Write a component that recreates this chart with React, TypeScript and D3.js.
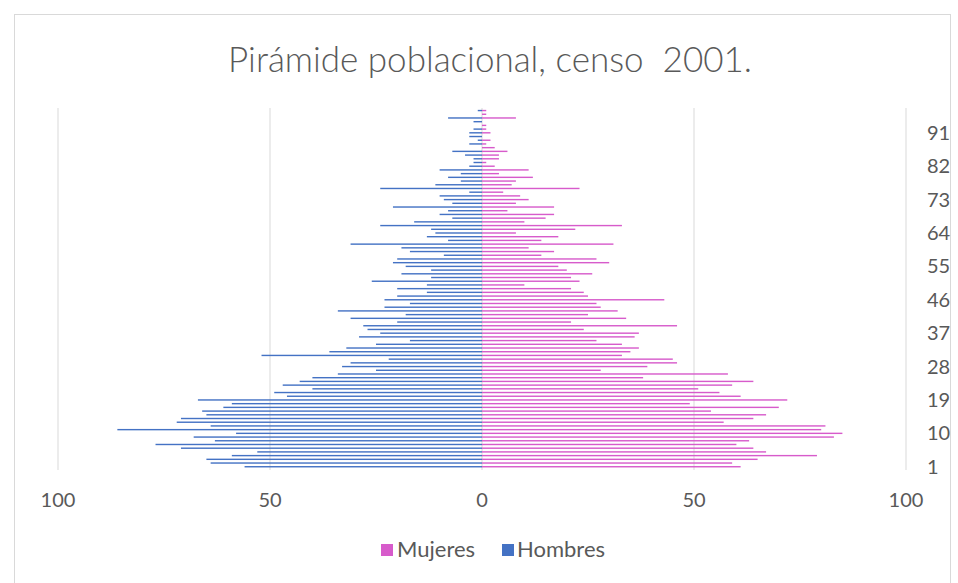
import React from "react";
import * as d3 from "d3";

const ages: number[] = Array.from({ length: 97 }, (_, i) => i + 1);
const hombres: number[] = [
  56, 64, 65, 59, 53, 71, 77, 63, 68, 58, 86, 64, 72, 71, 65, 66, 61, 59, 67, 46,
  49, 40, 47, 43, 40, 34, 25, 33, 31, 22, 52, 36, 32, 25, 17, 29, 24, 27, 28, 20,
  31, 18, 34, 23, 17, 23, 20, 13, 20, 13, 26, 12, 19, 12, 18, 21, 20, 9, 17, 19,
  31, 8, 13, 11, 12, 24, 16, 7, 10, 8, 21, 7, 9, 10, 3, 24, 11, 5, 8, 5,
  10, 3, 2, 2, 4, 7, 0, 3, 1, 3, 3, 2, 0, 2, 8, 0, 1,
];
const mujeres: number[] = [
  61, 59, 65, 79, 67, 64, 60, 63, 83, 85, 80, 81, 57, 64, 67, 54, 70, 49, 72, 61,
  56, 51, 59, 64, 38, 58, 28, 39, 46, 45, 33, 35, 37, 33, 27, 36, 37, 24, 46, 21,
  34, 25, 32, 28, 27, 43, 25, 24, 21, 10, 23, 21, 26, 20, 18, 30, 27, 14, 17, 11,
  31, 14, 18, 8, 22, 33, 10, 15, 17, 6, 17, 8, 11, 9, 5, 23, 7, 8, 12, 4,
  11, 3, 1, 4, 4, 6, 3, 1, 2, 0, 2, 1, 1, 0, 8, 1, 1,
];
const xTicks: number[] = [-100, -50, 0, 50, 100];
const yTickLabels: number[] = [1, 10, 19, 28, 37, 46, 55, 64, 73, 82, 91];
const title = "Pirámide poblacional, censo  2001.";
const seriesNames = ["Mujeres", "Hombres"];

const W = 958;
const H = 583;
const FEM = "#D75BCB";
const MAS = "#4472C4";
const TXT = "#595959";
const GRID = "#D9D9D9";
const FONT = "Lato, 'Open Sans', sans-serif";

export default function App() {
  const x = d3.scaleLinear().domain([-100, 100]).range([58, 906]);
  const y = d3
    .scaleBand<number>()
    .domain(ages)
    .range([468.6, 108.7])
    .paddingInner(0.62)
    .paddingOuter(0.31);
  const bh = y.bandwidth();
  const cy = (a: number) => (y(a) as number) + bh / 2;

  return (
    <svg width={W} height={H} style={{ position: "absolute", left: 0, top: 0 }}>
      <rect x={0} y={0} width={W} height={H} fill="#fff" />
      <rect x={14.5} y={14.5} width={936} height={580} fill="none" stroke={GRID} />
      <text
        x={490}
        y={72}
        textAnchor="middle"
        fontFamily={FONT}
        fontSize={35}
        fontWeight={300}
        fill={TXT}
        style={{ whiteSpace: "pre" }}
      >
        {title}
      </text>
      {xTicks.map((t) => (
        <line key={"g" + t} x1={x(t)} x2={x(t)} y1={108} y2={470} stroke={GRID} strokeWidth={1} />
      ))}
      {ages.map((a, i) => (
        <g key={"b" + a}>
          <rect x={x(-hombres[i])} y={y(a) as number} width={x(0) - x(-hombres[i])} height={bh} fill={MAS} />
          <rect x={x(0)} y={y(a) as number} width={x(mujeres[i]) - x(0)} height={bh} fill={FEM} />
        </g>
      ))}
      {xTicks.map((t) => (
        <text key={"t" + t} x={x(t)} y={507} textAnchor="middle" fontFamily={FONT} fontSize={20} fill={TXT}>
          {Math.abs(t)}
        </text>
      ))}
      {yTickLabels.map((a) => (
        <text key={"y" + a} x={927} y={cy(a) + 7} fontFamily={FONT} fontSize={20} fill={TXT}>
          {a}
        </text>
      ))}
      <g fontFamily={FONT} fontSize={22} fill={TXT}>
        <rect x={381} y={544} width={12} height={12} fill={FEM} />
        <text x={397} y={557}>{seriesNames[0]}</text>
        <rect x={502} y={544} width={12} height={12} fill={MAS} />
        <text x={517} y={557}>{seriesNames[1]}</text>
      </g>
    </svg>
  );
}
